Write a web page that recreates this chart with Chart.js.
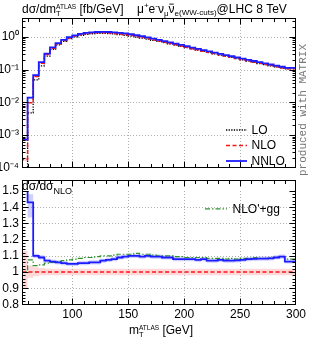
<!DOCTYPE html>
<html><head><meta charset="utf-8"><title>dσ/dmT ATLAS</title>
<script src="https://cdn.jsdelivr.net/npm/chart.js@4.4.1/dist/chart.umd.min.js"></script>
<style>
html,body{margin:0;padding:0;background:#fff;overflow:hidden}
#wrap{position:relative;width:311px;height:340px}
#wrap canvas{position:absolute;left:0}
#top{top:0}#bot{top:178px}
</style></head><body>
<div id="wrap"><canvas id="top" width="311" height="178"></canvas><canvas id="bot" width="311" height="162"></canvas></div>
<script>
// ---------------- data ----------------
const binEdges = [55,60,65,70,75,80,85,90,95,100,105,110,115,120,125,130,135,140,145,150,155,160,165,170,175,180,185,190,195,200,205,210,215,220,225,230,235,240,245,250,255,260,265,270,275,280,285,290,295,300];
const xTicks = [100,150,200,250,300];
const logTicks = [1e-4,1e-3,1e-2,1e-1,1];
const ratioTicks = [0.8,0.9,1,1.1,1.2,1.3,1.4,1.5];

// dσ/dmT [fb/GeV] per bin (values below 1e-4 are off-scale)
const loValues = [1e-5,1e-5,0.0048,0.049,0.13,0.26,0.42,0.575,0.735,0.885,1.015,1.12,1.205,1.255,1.285,1.285,1.27,1.24,1.19,1.13,1.065,0.995,0.93,0.857,0.792,0.731,0.672,0.614,0.567,0.517,0.472,0.432,0.398,0.363,0.335,0.306,0.280,0.258,0.237,0.217,0.200,0.183,0.168,0.154,0.142,0.132,0.121,0.111,0.106];
const nloValues = [1e-5,1.8e-4,0.0097,0.062,0.156,0.29,0.451,0.613,0.777,0.933,1.067,1.175,1.261,1.311,1.340,1.336,1.321,1.287,1.229,1.169,1.100,1.027,0.959,0.882,0.813,0.749,0.688,0.628,0.579,0.528,0.481,0.440,0.405,0.369,0.340,0.311,0.284,0.262,0.240,0.220,0.202,0.185,0.170,0.156,0.144,0.133,0.122,0.112,0.107];
const nnloValues = [1e-5,7.3e-4,0.0140,0.068,0.17,0.31,0.48,0.65,0.82,0.98,1.12,1.24,1.33,1.39,1.42,1.43,1.42,1.39,1.34,1.28,1.21,1.13,1.05,0.97,0.89,0.82,0.75,0.685,0.625,0.57,0.52,0.475,0.435,0.398,0.364,0.333,0.305,0.280,0.257,0.236,0.217,0.200,0.184,0.169,0.156,0.144,0.133,0.123,0.114];

// ratios to NLO (values above 1.5 are off-scale)
const nloRatio = [1,1,1,1,1,1,1,1,1,1,1,1,1,1,1,1,1,1,1,1,1,1,1,1,1,1,1,1,1,1,1,1,1,1,1,1,1,1,1,1,1,1,1,1,1,1,1,1,1];
const nnloRatio = [2.0,4.0,1.43,1.10,1.09,1.07,1.065,1.06,1.055,1.05,1.05,1.055,1.055,1.06,1.06,1.07,1.075,1.08,1.09,1.095,1.10,1.10,1.095,1.10,1.095,1.095,1.09,1.09,1.08,1.08,1.08,1.08,1.075,1.08,1.07,1.07,1.075,1.07,1.07,1.072,1.075,1.08,1.082,1.083,1.083,1.085,1.09,1.095,1.065];
const ggRatio = [2.0,1.005,1.075,1.04,1.045,1.055,1.06,1.065,1.07,1.075,1.08,1.085,1.09,1.09,1.095,1.10,1.10,1.105,1.11,1.11,1.11,1.115,1.11,1.11,1.105,1.10,1.10,1.10,1.095,1.095,1.09,1.09,1.09,1.09,1.085,1.085,1.085,1.08,1.085,1.08,1.085,1.085,1.09,1.085,1.085,1.09,1.09,1.095,1.08];

// relative scale-uncertainty band half-widths
const nloRelUp   = [0.37,0.13,0.04,0.03,0.025,0.02,0.02,0.02,0.02,0.02,0.02,0.02,0.02,0.02,0.02,0.02,0.02,0.02,0.02,0.02,0.02,0.02,0.02,0.02,0.02,0.02,0.02,0.02,0.02,0.02,0.02,0.02,0.02,0.02,0.02,0.02,0.02,0.02,0.02,0.02,0.02,0.02,0.02,0.02,0.02,0.02,0.02,0.02,0.02];
const nloRelDown = [0.30,0.10,0.035,0.025,0.02,0.02,0.02,0.02,0.02,0.02,0.02,0.02,0.02,0.02,0.02,0.02,0.02,0.02,0.02,0.02,0.02,0.02,0.02,0.02,0.02,0.02,0.02,0.02,0.02,0.02,0.02,0.02,0.02,0.02,0.02,0.02,0.02,0.02,0.02,0.02,0.02,0.02,0.02,0.02,0.02,0.02,0.02,0.02,0.02];
const nnloRelUp   = [0.02,0.03,0.035,0.012,0.012,0.012,0.012,0.012,0.012,0.012,0.012,0.012,0.012,0.012,0.012,0.012,0.012,0.012,0.012,0.012,0.012,0.012,0.012,0.012,0.012,0.012,0.012,0.012,0.012,0.012,0.012,0.012,0.012,0.012,0.012,0.012,0.012,0.012,0.012,0.012,0.012,0.012,0.012,0.012,0.012,0.012,0.012,0.012,0.012];
const nnloRelDown = [0.02,0.06,0.065,0.012,0.012,0.012,0.012,0.012,0.012,0.012,0.012,0.012,0.012,0.012,0.012,0.012,0.012,0.012,0.012,0.012,0.012,0.012,0.012,0.012,0.012,0.012,0.012,0.012,0.012,0.012,0.012,0.012,0.012,0.012,0.012,0.012,0.012,0.012,0.012,0.012,0.012,0.012,0.012,0.012,0.012,0.012,0.012,0.012,0.012];

const topLegend = ['LO','NLO','NNLO'];
const botLegend = ["NLO'+gg"];

// ---------------- helpers ----------------
const FONT = '"Liberation Sans", Arial, Helvetica, sans-serif';
Chart.defaults.font.family = FONT;

function steps(vals){
  const pts = vals.map((v,i)=>({x:binEdges[i], y:v}));
  pts.push({x:binEdges[binEdges.length-1], y:vals[vals.length-1]});
  return pts;
}
function scaled(vals, rel, sign){ return vals.map((v,i)=>v*(1+sign*rel[i])); }

function lineDs(label, vals, color, width, dash){
  return {label, data:steps(vals), borderColor:color, borderWidth:width, borderDash:dash||[],
    stepped:'after', pointRadius:0, fill:false, clip:0, tension:0};
}
function bandDs(vals, color, isUpper){
  return {label:'', data:steps(vals), borderColor:'rgba(0,0,0,0)', borderWidth:0, backgroundColor:color,
    stepped:'after', pointRadius:0, fill:isUpper?'+1':false, clip:0, tension:0};
}

function drawRich(ctx, x, y, parts, align){
  const items=[]; let cx=0, i=0;
  const w = p => { ctx.font = p.size+'px '+FONT; return ctx.measureText(p.t).width; };
  while(i<parts.length){
    const p=parts[i];
    if(p.stack && i+1<parts.length){
      const q=parts[i+1], w1=w(p), w2=w(q);
      items.push({p,x:cx,w:w1}); items.push({p:q,x:cx,w:w2});
      cx+=Math.max(w1,w2)+(q.gap||0); i+=2;
    } else { const w1=w(p); items.push({p,x:cx,w:w1}); cx+=w1+(p.gap||0); i++; }
  }
  const x0 = align==='center' ? x-cx/2 : (align==='right' ? x-cx : x);
  ctx.textAlign='left'; ctx.textBaseline='alphabetic';
  for(const it of items){
    ctx.font = it.p.size+'px '+FONT;
    const yy = y+(it.p.dy||0);
    ctx.fillText(it.p.t, x0+it.x, yy);
    if(it.p.bar){ ctx.fillRect(x0+it.x+0.8, yy-it.p.size*0.78, it.w-1.6, 0.9); }
  }
  return cx;
}

function frameAndTicks(chart, cfg){
  const {ctx, chartArea:a, scales:{x,y}} = chart;
  const L=Math.round(a.left)+0.5, R=Math.round(a.right)-0.5;
  const T=Math.round(a.top-(cfg.extraTop||0))+0.5, B=Math.round(a.bottom)-0.5;
  ctx.save(); ctx.strokeStyle='#000'; ctx.lineWidth=1; ctx.setLineDash([]);
  ctx.strokeRect(L,T,R-L,B-T);
  ctx.beginPath();
  for(let v=60; v<300; v+=10){
    const len = v%50===0 ? 6 : 3.5;
    const px = Math.round(x.getPixelForValue(v))+0.5;
    ctx.moveTo(px,B); ctx.lineTo(px,B-len); ctx.moveTo(px,T); ctx.lineTo(px,T+len);
  }
  for(const [v,len] of cfg.yMarks){
    const py = Math.round(y.getPixelForValue(v))+0.5;
    if(py<T||py>B) continue;
    ctx.moveTo(L,py); ctx.lineTo(L+len,py); ctx.moveTo(R,py); ctx.lineTo(R-len,py);
  }
  ctx.stroke(); ctx.restore();
}
function grid(chart, xs, ys){
  const {ctx, chartArea:a, scales:{x,y}} = chart;
  ctx.save(); ctx.fillStyle='#fff'; ctx.fillRect(0,0,chart.width,chart.height);
  ctx.strokeStyle='#b0b0b0'; ctx.lineWidth=1; ctx.setLineDash([1,2]);
  ctx.beginPath();
  for(const v of xs){ const px=Math.round(x.getPixelForValue(v))+0.5; ctx.moveTo(px,a.top); ctx.lineTo(px,a.bottom); }
  for(const v of ys){ const py=Math.round(y.getPixelForValue(v))+0.5; ctx.moveTo(a.left,py); ctx.lineTo(a.right,py); }
  ctx.stroke(); ctx.restore();
}
function legendItem(ctx, ds, x1, x2, xt, y, text){
  ctx.save();
  ctx.strokeStyle=ds.borderColor; ctx.lineWidth=ds.borderWidth; ctx.setLineDash(ds.borderDash||[]);
  ctx.beginPath(); ctx.moveTo(x1,y+0.5); ctx.lineTo(x2,y+0.5); ctx.stroke();
  ctx.fillStyle='#000'; ctx.font='12px '+FONT; ctx.textAlign='left'; ctx.textBaseline='middle';
  ctx.fillText(text, xt, y+1);
  ctx.restore();
}

const SUP={'0':'\u2070','1':'\u00B9','2':'\u00B2','3':'\u00B3','4':'\u2074','-':'\u207B'};

const BLUE='#1c1cff', RED='#ff1414', GREEN='#2f922f';
const commonOpts = {responsive:false, animation:false, devicePixelRatio:1, events:[]};

// ---------------- top panel ----------------
const logMarks=[];
for(let e=-4;e<=0;e++) for(let k=1;k<=9;k++) logMarks.push([k*Math.pow(10,e), k===1?6:3]);

const topDatasets = [
  lineDs('NNLO', nnloValues, BLUE, 1.8),
  lineDs('NLO', nloValues, RED, 1.5, [4,2.5]),
  lineDs('LO', loValues, '#000', 1.3, [1.3,1.3]),
  bandDs(scaled(nnloValues,nnloRelUp,1),'rgba(120,120,255,0.35)',true),
  bandDs(scaled(nnloValues,nnloRelDown,-1),'rgba(120,120,255,0.35)',false),
  bandDs(scaled(nloValues,nloRelUp,1),'rgba(255,130,130,0.3)',true),
  bandDs(scaled(nloValues,nloRelDown,-1),'rgba(255,130,130,0.3)',false)
];

new Chart(document.getElementById('top'), {
  type:'line',
  data:{datasets:topDatasets},
  options:Object.assign({}, commonOpts, {
    layout:{padding:{top:18,right:15,bottom:1.5,left:0}},
    plugins:{legend:{display:false}, tooltip:{enabled:false}, filler:{drawTime:'beforeDatasetsDraw'}},
    scales:{
      x:{type:'linear', min:55, max:300, grid:{display:false,drawTicks:false}, border:{display:false},
         ticks:{display:false}, afterFit(s){s.height=0;}},
      y:{type:'logarithmic', min:1e-4, max:3.8, grid:{display:false,drawTicks:false}, border:{display:false},
         ticks:{color:'#000', font:{size:12,family:FONT}, padding:3, autoSkip:false,
           callback(v){ const e=Math.round(Math.log10(v)); return '10'+String(e).split('').map(c=>SUP[c]).join(''); }},
         afterBuildTicks(s){ s.ticks = logTicks.map(v=>({value:v})); },
         afterFit(s){ s.width=22; }}
    }
  }),
  plugins:[{
    id:'decorTop',
    beforeDraw(chart){ grid(chart, xTicks.slice(0,4), logTicks.slice(1)); },
    afterDatasetsDraw(chart){ frameAndTicks(chart, {yMarks:logMarks}); },
    afterDraw(chart){
      const ctx=chart.ctx, a=chart.chartArea;
      ctx.save(); ctx.fillStyle='#000';
      drawRich(ctx, a.left, 13, [
        {t:'d\u03C3/dm',size:12},{t:'T',size:7.5,dy:2.5,stack:true},{t:'ATLAS',size:6.5,dy:-4.5},{t:' [fb/GeV]',size:12}
      ]);
      drawRich(ctx, 137, 13, [
        {t:'\u03BC',size:12},{t:'+',size:8,dy:-5},{t:'e',size:12},{t:'-',size:8,dy:-5},
        {t:'\u03BD',size:12},{t:'\u03BC',size:8,dy:3},{t:'\u03BD',size:12,bar:true},{t:'e',size:8,dy:3},
        {t:'(WW-cuts)',size:8,dy:2},{t:'@LHC 8 TeV',size:12}
      ]);
      // legend
      const ds=chart.data.datasets;
      legendItem(ctx, ds[2], 226, 247, 251.5, 129.5, topLegend[0]);
      legendItem(ctx, ds[1], 226, 247, 251.5, 145, topLegend[1]);
      legendItem(ctx, ds[0], 226, 247, 251.5, 160.5, topLegend[2]);
      // producer tag
      ctx.translate(303.5, 110); ctx.rotate(-Math.PI/2);
      ctx.fillStyle='#777'; ctx.font='11px "Liberation Mono", "DejaVu Sans Mono", monospace';
      ctx.textAlign='center'; ctx.textBaseline='middle';
      ctx.fillText('produced with MATRIX', 0, 0);
      ctx.restore();
    }
  }]
});

// ---------------- ratio panel ----------------
const ratioMarks=[];
for(let i=0;i<=35;i++) ratioMarks.push([0.8+i*0.02, i%5===0?6:3]);

const botDatasets = [
  lineDs('NNLO/NLO', nnloRatio, BLUE, 1.8),
  lineDs("NLO'+gg", ggRatio, GREEN, 1.2, [5,2,1.5,2]),
  lineDs('NLO/NLO', nloRatio, RED, 1.5, [4,2.5]),
  bandDs(scaled(nnloRatio,nnloRelUp,1),'rgba(120,120,255,0.35)',true),
  bandDs(scaled(nnloRatio,nnloRelDown,-1),'rgba(120,120,255,0.35)',false),
  bandDs(scaled(nloRatio,nloRelUp,1),'rgba(255,130,130,0.3)',true),
  bandDs(scaled(nloRatio,nloRelDown,-1),'rgba(255,130,130,0.3)',false)
];

new Chart(document.getElementById('bot'), {
  type:'line',
  data:{datasets:botDatasets},
  options:Object.assign({}, commonOpts, {
    layout:{padding:{top:13,right:15,bottom:0,left:0}},
    plugins:{legend:{display:false}, tooltip:{enabled:false}, filler:{drawTime:'beforeDatasetsDraw'}},
    scales:{
      x:{type:'linear', min:55, max:300, grid:{display:false,drawTicks:false}, border:{display:false},
         ticks:{color:'#000', font:{size:12,family:FONT}, padding:3, autoSkip:false, maxRotation:0},
         afterBuildTicks(s){ s.ticks = xTicks.map(v=>({value:v})); },
         afterFit(s){ s.height=35.5; }},
      y:{type:'linear', min:0.8, max:1.5, grid:{display:false,drawTicks:false}, border:{display:false},
         ticks:{color:'#000', font:{size:12,family:FONT}, padding:3, autoSkip:false,
           callback(v){ return String(+v.toFixed(1)); }},
         afterBuildTicks(s){ s.ticks = ratioTicks.map(v=>({value:v})); },
         afterFit(s){ s.width=22; }}
    }
  }),
  plugins:[{
    id:'decorBot',
    beforeDraw(chart){ grid(chart, xTicks.slice(0,4), [0.9,1.1,1.2,1.3,1.4]); },
    afterDatasetsDraw(chart){ frameAndTicks(chart, {yMarks:ratioMarks, extraTop:11}); },
    afterDraw(chart){
      const ctx=chart.ctx, a=chart.chartArea;
      ctx.save(); ctx.fillStyle='#000';
      drawRich(ctx, a.left, a.top-1, [{t:'d\u03C3/d\u03C3',size:12},{t:'NLO',size:9,dy:3.5}]);
      drawRich(ctx, 161, 156, [
        {t:'m',size:12},{t:'T',size:7.5,dy:2.5,stack:true},{t:'ATLAS',size:6.5,dy:-4.5},{t:' [GeV]',size:12}
      ], 'center');
      legendItem(ctx, chart.data.datasets[1], 205, 227, 232.5, 30.3, botLegend[0]);
      ctx.restore();
    }
  }]
});
</script>
</body></html>
